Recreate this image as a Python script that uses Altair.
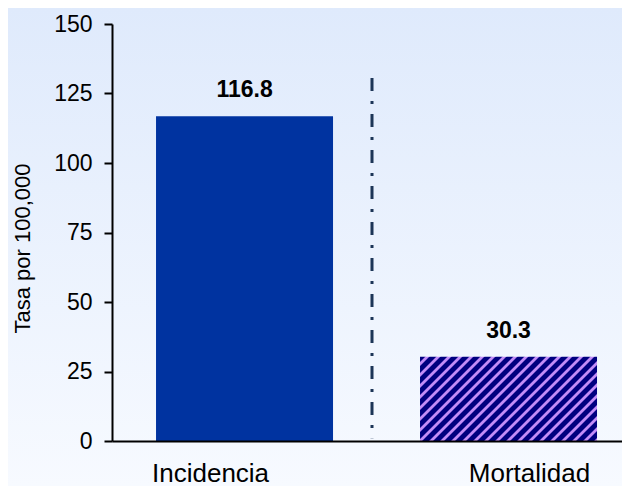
import altair as alt
import pandas as pd

# ---- data ----
categories = ["Incidencia", "Mortalidad"]
rates = [116.8, 30.3]
value_labels = ["116.8", "30.3"]
y_ticks = [0, 25, 50, 75, 100, 125, 150]
y_title = "Tasa por 100,000"

# ---- layout / style ----
W, H = 510, 417
Y_MAX = 150
FONT = "Liberation Sans"
PAD_INNER, PAD_OUTER, BAND_ALIGN = 0.3295, 0.1307, 0.638

df = pd.DataFrame({"cat": categories, "rate": rates, "label": value_labels})

# hatch pattern for the second bar, built as a striped linear gradient
step = W / (len(categories) - PAD_INNER + 2 * PAD_OUTER)
bw = step * (1 - PAD_INNER)
bh = rates[1] / Y_MAX * H
r = bh / bw
k = (bw + bh) / (bw * (1 + r * r))
period = 11.0
total = bw + bh
navy, lilac = "#000080", "#c38cf8"
profile = [(0.0, navy), (4.5, navy), (6.0, lilac), (8.5, lilac), (10.0, navy)]
stops = []
i = 0
while i * period <= total:
    for off, col in profile:
        o = (i * period + off) / total
        if o <= 1:
            stops.append(alt.GradientStop(offset=o, color=col))
    i += 1
hatch = alt.LinearGradient(gradient="linear", stops=stops, x1=0, y1=0, x2=k, y2=k * r)

bg_grad = alt.LinearGradient(
    gradient="linear",
    stops=[alt.GradientStop(offset=0, color="#dfeafc"), alt.GradientStop(offset=1, color="#f7faff")],
    x1=0, y1=0, x2=0, y2=1,
)

x_scale = alt.Scale(domain=categories, paddingInner=PAD_INNER, paddingOuter=PAD_OUTER, align=BAND_ALIGN)
y_scale = alt.Scale(domain=[0, Y_MAX], nice=False)

x_enc = alt.X(
    "cat:N", scale=x_scale, sort=categories, title=None,
    axis=alt.Axis(
        zindex=1,
        domainColor="black", domainWidth=2, ticks=False, tickSize=0,
        labelFontSize=26, labelFont=FONT, labelColor="black", labelAngle=0,
        labelBaseline="alphabetic", labelPadding=40,
        labelOffset={"condition": {"test": "datum.value === 'Incidencia'", "value": -34}, "value": 21},
    ),
)
y_enc = alt.Y(
    "rate:Q", scale=y_scale, title=y_title,
    axis=alt.Axis(
        zindex=1,
        values=y_ticks, grid=False, domainColor="black", domainWidth=2,
        tickColor="black", tickWidth=2, tickSize=8,
        labelFontSize=23, labelFont=FONT, labelColor="black", labelPadding=12,
        titleFontSize=22, titleFont=FONT, titleFontWeight="normal", titleColor="black",
        titleX=-90, titleY=224, titleAngle=270, titleAlign="center", titleBaseline="middle",
    ),
)

bg = alt.Chart(pd.DataFrame({"a": [0]})).mark_rect(fill=bg_grad).encode(
    x=alt.value(-104), x2=alt.value(W), y=alt.value(-16), y2=alt.value(H + 46)
)

base = alt.Chart(df)
bar1 = base.transform_filter("datum.cat === 'Incidencia'").mark_bar(color="#0033a0").encode(x=x_enc, y=y_enc)
bar2 = base.transform_filter("datum.cat === 'Mortalidad'").mark_bar(fill=hatch).encode(x=x_enc, y=y_enc)

text = base.mark_text(
    fontSize=23, fontWeight="bold", font=FONT, baseline="alphabetic", dy=-19, color="black"
).encode(x=x_enc, y=y_enc, text="label:N")

sep = alt.Chart(pd.DataFrame({"a": [0]})).mark_rule(
    color="#1c3557", strokeWidth=3, strokeDash=[13, 10, 3, 10]
).encode(x=alt.value(260), y=alt.datum(130.6), y2=alt.datum(1))

chart = (
    alt.layer(bg, bar1, bar2, sep, text)
    .properties(
        width=W, height=H,
        autosize=alt.AutoSizeParams(type="none"),
        padding={"left": 104, "top": 16, "right": 0, "bottom": 46},
        background="#eaf1fd",
    )
    .configure_view(stroke=None)
)

chart.save("out.html", embed_options={"renderer": "svg", "actions": False})
